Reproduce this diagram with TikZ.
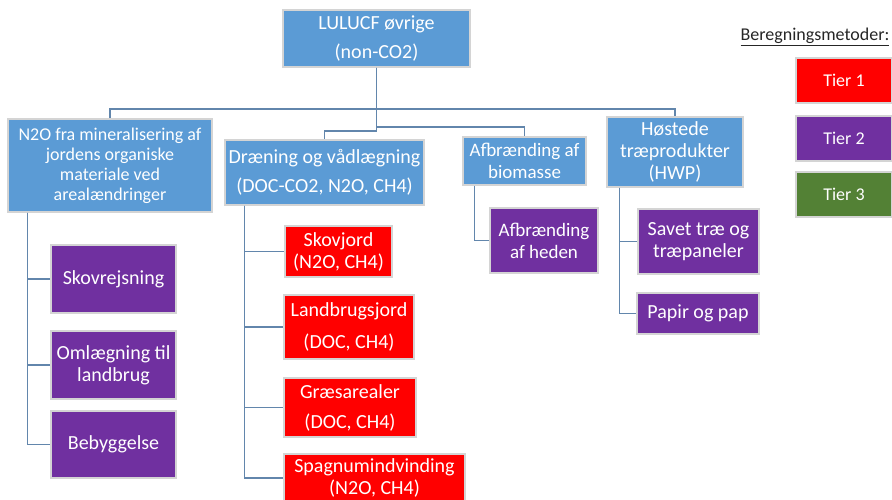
\documentclass[tikz,border=0pt]{standalone}
\usepackage{fontspec}
\setmainfont{Carlito}
\usetikzlibrary{math}

\definecolor{boxblue}{HTML}{5B9BD5}
\definecolor{tierred}{HTML}{FF0000}
\definecolor{tierpurple}{HTML}{7030A0}
\definecolor{tiergreen}{HTML}{538135}
\definecolor{boxedge}{HTML}{D4D4D4}
\definecolor{linkblue}{HTML}{6286AC}

\begin{document}
\begin{tikzpicture}[x=1pt, y=-1pt,
    box/.style={draw=boxedge, line width=1.2pt, text=white, align=center,
        inner sep=0pt, font=\fontsize{20}{22}\selectfont},
    wide/.style={font=\fontsize{20}{29}\selectfont},
    small/.style={font=\fontsize{18}{20}\selectfont},
    conn/.style={draw=linkblue, line width=1.3pt},
    ]

\useasboundingbox (0,0) rectangle (892,500);

% Position settings
\tikzmath{
    \TopY = 109;
    \MidY = 127;
    \LowY = 131;
}

% Root
\node [box, wide, fill=boxblue, minimum width=187pt, minimum height=57pt]
    (root) at (376.5,38.5) {LULUCF øvrige\\(non-CO2)};

% Second level
\node [box, small, fill=boxblue, minimum width=204pt, minimum height=93pt]
    (n2o) at (110,165.5) {N2O fra mineralisering af\\jordens organiske\\materiale ved\\arealændringer};
\node [box, wide, fill=boxblue, minimum width=199pt, minimum height=65pt]
    (draen) at (324.5,172.5) {Dræning og vådlægning\\(DOC-CO2, N2O, CH4)};
\node [box, font=\fontsize{19}{22}\selectfont, fill=boxblue, minimum width=123pt, minimum height=48pt]
    (afbr) at (524.5,161) {Afbrænding af\\biomasse};
\node [box, fill=boxblue, minimum width=136pt, minimum height=70pt]
    (hwp) at (675,152) {Høstede\\træprodukter\\(HWP)};

% Under N2O
\node [box, fill=tierpurple, minimum width=125pt, minimum height=68pt]
    (skovrejs) at (113.5,279) {Skovrejsning};
\node [box, fill=tierpurple, minimum width=125pt, minimum height=68pt]
    (omlaeg) at (113.5,365) {Omlægning til\\landbrug};
\node [box, fill=tierpurple, minimum width=125pt, minimum height=67pt]
    (bebyg) at (113.5,444.5) {Bebyggelse};

% Under draening
\node [box, fill=tierred, minimum width=107pt, minimum height=51pt]
    (skovjord) at (338.5,251.5) {Skovjord\\(N2O, CH4)};
\node [box, font=\fontsize{20}{32}\selectfont, fill=tierred, minimum width=130pt, minimum height=64pt]
    (landbrug) at (349,327) {Landbrugsjord\\(DOC, CH4)};
\node [box, font=\fontsize{20}{30}\selectfont, fill=tierred, minimum width=132pt, minimum height=59pt]
    (graes) at (350,407.5) {Græsarealer\\(DOC, CH4)};
\node [box, fill=tierred, minimum width=181pt, minimum height=48pt]
    (spagnum) at (374.5,478) {Spagnumindvinding\\(N2O, CH4)};

% Under afbraending
\node [box, font=\fontsize{19}{22}\selectfont, fill=tierpurple, minimum width=108pt, minimum height=65pt]
    (heden) at (544,240.5) {Afbrænding\\af heden};

% Under HWP
\node [box, fill=tierpurple, minimum width=121pt, minimum height=65pt]
    (savet) at (698.5,241.5) {Savet træ og\\træpaneler};
\node [box, fill=tierpurple, minimum width=122pt, minimum height=41pt]
    (papir) at (698,313.5) {Papir og pap};

% Legend
\node [small, text=black!85] (legend) at (815,37) {\underline{Beregningsmetoder:}};
\node [box, small, fill=tierred, minimum width=96pt, minimum height=45pt]
    (tier1) at (844,80.5) {Tier 1};
\node [box, small, fill=tierpurple, minimum width=96pt, minimum height=45pt]
    (tier2) at (844,138.5) {Tier 2};
\node [box, small, fill=tiergreen, minimum width=96pt, minimum height=45pt]
    (tier3) at (844,194.5) {Tier 3};

% Draws top connectors
\draw [conn] (root.south) -- (root.south |- 0,\TopY) -| (n2o.north);
\draw [conn] (root.south) -- (root.south |- 0,\TopY) -| (hwp.north);
\draw [conn] (root.south) -- (root.south |- 0,\MidY) -| (afbr.north);
\draw [conn] (root.south) -- (root.south |- 0,\LowY) -| (draen.north);

% Draws child connectors
\draw [conn] ([xshift=20pt]n2o.south west) |- (skovrejs.west);
\draw [conn] ([xshift=20pt]n2o.south west) |- (omlaeg.west);
\draw [conn] ([xshift=20pt]n2o.south west) |- (bebyg.west);

\draw [conn] ([xshift=20pt]draen.south west) |- (skovjord.west);
\draw [conn] ([xshift=20pt]draen.south west) |- (landbrug.west);
\draw [conn] ([xshift=20pt]draen.south west) |- (graes.west);
\draw [conn] ([xshift=20pt]draen.south west) |- (spagnum.west);

\draw [conn] ([xshift=12pt]afbr.south west) |- (heden.west);

\draw [conn] ([xshift=13pt]hwp.south west) |- (savet.west);
\draw [conn] ([xshift=13pt]hwp.south west) |- (papir.west);

\end{tikzpicture}
\end{document}
